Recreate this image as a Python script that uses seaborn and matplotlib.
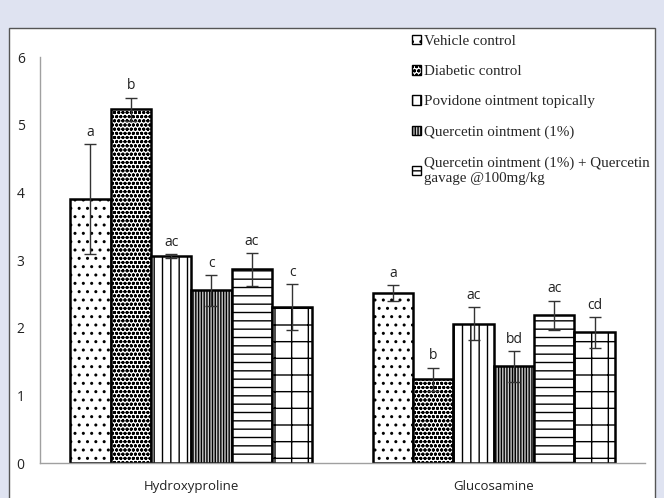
import numpy as np
import pandas as pd
import matplotlib
matplotlib.use("Agg")
import matplotlib.pyplot as plt
import seaborn as sns
from matplotlib.patches import Patch, Rectangle

# data
categories = ["Hydroxyproline", "Glucosamine"]
groups = ["Vehicle control", "Diabetic control", "Povidone ointment topically",
          "Quercetin ointment (1%)",
          "Quercetin ointment (1%) + Quercetin\ngavage @100mg/kg", "Group 6"]
hydroxyproline = [3.90, 5.23, 3.06, 2.55, 2.86, 2.30]
glucosamine = [2.51, 1.24, 2.06, 1.43, 2.18, 1.93]
hydroxyproline_err = [0.81, 0.17, 0.03, 0.23, 0.24, 0.34]
glucosamine_err = [0.12, 0.17, 0.24, 0.23, 0.22, 0.23]
hydroxyproline_letters = ["a", "b", "ac", "c", "ac", "c"]
glucosamine_letters = ["a", "b", "ac", "bd", "ac", "cd"]

rows = []
for cat, vals, errs, lets in [(categories[0], hydroxyproline, hydroxyproline_err, hydroxyproline_letters),
                              (categories[1], glucosamine, glucosamine_err, glucosamine_letters)]:
    for g, v, e, l in zip(groups, vals, errs, lets):
        rows.append({"category": cat, "group": g, "value": v, "err": e, "letter": l})
df = pd.DataFrame(rows)

sns.set_theme(style="white")
plt.rcParams["font.family"] = ["Open Sans", "DejaVu Sans"]
plt.rcParams["hatch.linewidth"] = 1.0

hatches = ["..", "oooo", "||", "||||||", "--", "+"]
faces = ["white", "white", "white", "#c8c8c8", "white", "white"]

fig = plt.figure(figsize=(6.64, 4.98), dpi=100)
fig.patch.set_facecolor("#dfe3f1")
fig.patches.append(Rectangle((9 / 664, -0.1), (655 - 9) / 664, 1.1 - 28 / 498,
                             transform=fig.transFigure, facecolor="white",
                             edgecolor="#555555", linewidth=1.0, zorder=-5))
ax = fig.add_axes([40 / 664, 1 - 463 / 498, (645 - 40) / 664, (463 - 57) / 498])
ax.set_facecolor("none")

sns.barplot(data=df, x="category", y="value", hue="group", order=categories,
            hue_order=groups, width=0.8, gap=0, errorbar=None, legend=False,
            edgecolor="black", linewidth=1.8, ax=ax)

containers = list(ax.containers)
for i, cont in enumerate(containers):
    sub = df[df["group"] == groups[i]].set_index("category").loc[categories]
    xs = []
    for p in cont.patches:
        p.set_hatch(hatches[i])
        p.set_facecolor(faces[i])
        p.set_edgecolor("black")
        xs.append(p.get_x() + p.get_width() / 2)
    ax.errorbar(xs, sub["value"], yerr=sub["err"], fmt="none", ecolor="#333333",
                elinewidth=1.0, capsize=4, capthick=1.0, zorder=5)
    for x, v, e, l in zip(xs, sub["value"], sub["err"], sub["letter"]):
        ax.annotate(l, (x, v + e), xytext=(0, 3), textcoords="offset points",
                    ha="center", va="bottom", fontsize=10, color="#222222")

ax.set_ylim(0, 6)
ax.set_xlim(-0.5, 1.5)
ax.set_yticks(range(0, 7))
ax.set_xlabel("")
ax.set_ylabel("")
ax.set_xticks([0, 1])
ax.set_xticklabels(categories, fontsize=9.5, color="#222222")
ax.tick_params(axis="x", length=0, pad=12)
ax.set_xticks([-0.5, 0.5, 1.5], minor=True)
ax.tick_params(axis="x", which="minor", length=5, color="#999999", direction="out")
ax.tick_params(axis="y", length=4, color="#999999", direction="out", labelsize=10,
               labelcolor="#222222", pad=7)
for s in ["top", "right"]:
    ax.spines[s].set_visible(False)
for s in ["left", "bottom"]:
    ax.spines[s].set_color("#a0a0a0")
    ax.spines[s].set_linewidth(1.0)

handles = [Patch(facecolor=faces[i], edgecolor="black", hatch=hatches[i], linewidth=1.0)
           for i in range(5)]
ax.legend(handles, groups[:5], loc="upper left", bbox_to_anchor=(0.592, 1.088),
          frameon=False, handlelength=0.6, handleheight=0.6, handletextpad=0.2,
          labelspacing=1.15, prop={"family": "Liberation Serif", "size": 10.8})

fig.savefig("out.png", dpi=100, facecolor=fig.get_facecolor())
